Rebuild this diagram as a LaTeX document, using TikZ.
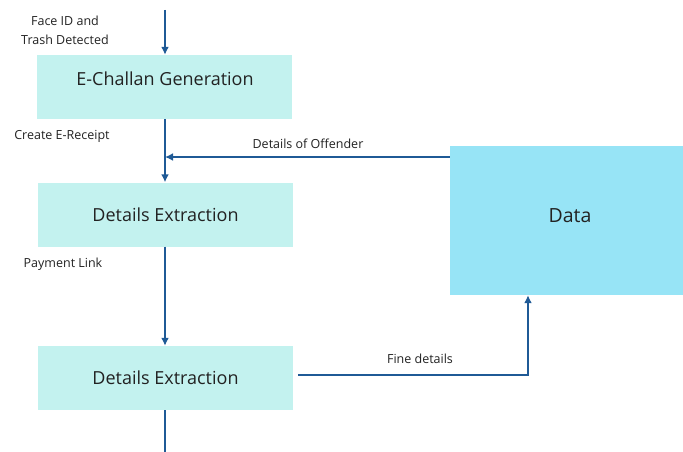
\documentclass[tikz,border=0pt]{standalone}
\usepackage{fontspec}
\setmainfont{Open Sans}
\usetikzlibrary{arrows.meta}
\definecolor{lightbox}{HTML}{C3F2EF}
\definecolor{databox}{HTML}{97E4F6}
\definecolor{flow}{HTML}{1F5A96}
\definecolor{txt}{HTML}{222222}
\tikzset{
  procbox/.style={fill=lightbox, draw=none, minimum width=255pt, minimum height=64pt, inner sep=0pt, font=\fontsize{18}{22}\selectfont, text=txt},
  store/.style={fill=databox, draw=none, minimum width=233pt, minimum height=149pt, inner sep=0pt, font=\fontsize{19.5}{23}\selectfont, text=txt},
  lbl/.style={font=\fontsize{12.5}{19}\selectfont, text=txt, align=center, inner sep=0pt},
  flowline/.style={draw=flow, line width=1.6pt, -{Latex[length=8pt,width=8pt]}},
  plainline/.style={draw=flow, line width=1.6pt}
}
\begin{document}
\begin{tikzpicture}[x=1pt,y=-1pt]
\useasboundingbox (0,0) rectangle (683,452);
\node[procbox] (b1) at (164.5,87) {};
\node[lbl, font=\fontsize{18}{22}\selectfont] (t1) at (165,79) {E-Challan Generation};
\node[procbox] (b2) at (165.5,214.5) {Details Extraction};
\node[procbox] (b3) at (165.5,378) {Details Extraction};
\node[store] (d) at (566.5,220.5) {};
\node[lbl, font=\fontsize{19.5}{23}\selectfont] (dt) at (570,216) {Data};
\coordinate (top) at (165,10);
\coordinate (bot) at (165,452);
\coordinate (join) at (165,157);
\coordinate (corner) at (528,375);
\node[lbl] (l1) at (65,30) {Face ID and\\Trash Detected};
\node[lbl] (l2) at (62,136) {Create E-Receipt};
\node[lbl] (l3) at (63,264) {Payment Link};
\node[lbl] (l4) at (308,144) {Details of Offender};
\node[lbl] (l5) at (420,359) {Fine details};
\draw[flowline] (top) -- (top |- b1.north);
\draw[flowline] (b1.south -| top) -- (b2.north -| top);
\draw[flowline] (d.west |- join) -- (join);
\draw[flowline] (b2.south -| top) -- (b3.north -| top);
\draw[plainline] (b3.south -| top) -- (bot);
\draw[flowline] ([xshift=5pt]b3.east |- corner) -- (corner) -- (corner |- d.south);
\end{tikzpicture}
\end{document}
